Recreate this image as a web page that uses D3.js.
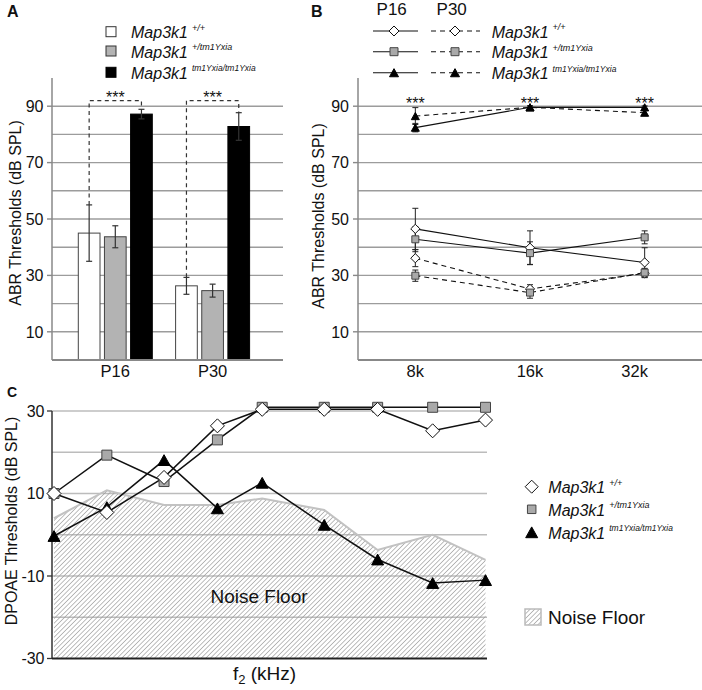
<!DOCTYPE html>
<html><head><meta charset="utf-8">
<script src="https://cdn.jsdelivr.net/npm/d3@7"></script>
<style>
body{margin:0;background:#fff}
svg{display:block}
text{font-family:"Liberation Sans",Arial,Helvetica,sans-serif;fill:#111}
</style>
</head><body>
<svg id="chart" width="702" height="690"></svg>
<script>
// ---------- DATA ----------
const genotypes = ["+/+", "+/tm1Yxia", "tm1Yxia/tm1Yxia"];
// Panel A: ABR click thresholds
const ageGroups = ["P16", "P30"];
const barP16 = [45, 43.7, 87.2];
const barP16Err = [10, 3.9, 1.7];
const barP30 = [26.3, 24.6, 82.8];
const barP30Err = [3, 2.3, 4.9];
const ticksABR = [10, 30, 50, 70, 90];
const bracketLevel = 92;
// Panel B: ABR thresholds by frequency
const freqsB = ["8k", "16k", "32k"];
const p16WT = [46.5, 39.8, 34.6], p16WTErr = [7.3, 6, 5.2];
const p16Het = [42.8, 37.9, 43.5], p16HetErr = [4.4, 4, 2.3];
const p16KO = [82.4, 89.6, 89.6], p16KOErr = [1.5, 0.5, 0.5];
const p30WT = [36.1, 25.2, 30.7], p30WTErr = [3, 1.5, 1.5];
const p30Het = [29.9, 23.9, 31], p30HetErr = [2, 2, 1.5];
const p30KO = [86.5, 89.6, 87.7], p30KOErr = [3, 0.5, 1];
// Panel C: DPOAE thresholds
const f2Steps = [0, 0.98, 2.04, 3.03, 3.86, 5.01, 6.0, 7.02, 8.0];
const dpWT = [10, 5.4, 13.9, 26.4, 30.4, 30.4, 30.4, 25.2, 27.8];
const dpHet = [10, 19.3, 12.9, 23, 30.9, 30.9, 30.9, 30.9, 30.9];
const dpKO = [-0.3, 6.7, 18.1, 6.4, 12.6, 2.4, -6, -11.7, -11];
const noiseFloor = [4, 10.8, 7.2, 7.2, 8.8, 6, -3.7, 0, -6.1];
const ticksDP = [30, 10, -10, -30];

// ---------- HELPERS ----------
const svg = d3.select("#chart");
const defs = svg.append("defs");
const hatch = defs.append("pattern").attr("id", "hatch")
  .attr("patternUnits", "userSpaceOnUse").attr("width", 3.3).attr("height", 3.3)
  .attr("patternTransform", "rotate(45)");
hatch.append("line").attr("x1", 0).attr("y1", 0).attr("x2", 0).attr("y2", 3.3)
  .attr("stroke", "#9a9a9a").attr("stroke-width", 1.3);

function diamond(r) { return `M0,${-r}L${r},0L0,${r}L${-r},0Z`; }
function square(s) { const h = s / 2; return `M${-h},${-h}H${h}V${h}H${-h}Z`; }
function triangle(w) { const h = w * 0.9; return `M0,${-h/2}L${w/2},${h/2}L${-w/2},${h/2}Z`; }
const markerStyle = [
  {fill: "#fff", stroke: "#111"},
  {fill: "#a9a9a9", stroke: "#444"},
  {fill: "#000", stroke: "#000"}
];
function marker(g, idx, x, y, sizes) {
  const d = idx === 0 ? diamond(sizes[0]) : idx === 1 ? square(sizes[1]) : triangle(sizes[2]);
  g.append("path").attr("d", d).attr("transform", `translate(${x},${y})`)
    .attr("fill", markerStyle[idx].fill).attr("stroke", markerStyle[idx].stroke).attr("stroke-width", 1);
}
function genoLabel(g, x, y, sup, size, supSize) {
  const t = g.append("text").attr("x", x).attr("y", y).attr("font-size", size).attr("font-style", "italic");
  t.append("tspan").text("Map3k1");
  t.append("tspan").attr("dx", 4).attr("dy", -7.5).attr("font-size", supSize).text(sup);
}

// ---------- PANEL A ----------
const gA = svg.append("g");
const yA = d3.scaleLinear().domain([0, 100]).range([360, 78]);
const xA = d3.scalePoint().domain(ageGroups).range([115.3, 212.6]);
const xSub = d3.scaleBand().domain(genotypes).range([-37, 37]).paddingInner(0.17);
gA.selectAll("line.grid").data(d3.range(10, 100, 10)).join("line")
  .attr("x1", 52).attr("x2", 283).attr("y1", d => yA(d)).attr("y2", d => yA(d))
  .attr("stroke", "#9c9c9c").attr("stroke-width", 1.4);
gA.append("line").attr("x1", 52).attr("x2", 52).attr("y1", yA(100)).attr("y2", yA(0))
  .attr("stroke", "#888").attr("stroke-width", 1.5);
gA.selectAll("line.tk").data(ticksABR).join("line")
  .attr("x1", 47).attr("x2", 52).attr("y1", d => yA(d)).attr("y2", d => yA(d))
  .attr("stroke", "#888").attr("stroke-width", 1.4);
gA.selectAll("text.tk").data(ticksABR).join("text")
  .attr("x", 43.5).attr("y", d => yA(d)).attr("dy", "0.36em").attr("text-anchor", "end")
  .attr("font-size", 16).text(d => d);

const barSets = [[barP16, barP16Err], [barP30, barP30Err]];
const barFill = ["#fff", "#b3b3b3", "#000"];
const barStroke = ["#444", "#444", "#000"];
ageGroups.forEach((grp, gi) => {
  const [vals, errs] = barSets[gi];
  genotypes.forEach((gt, k) => {
    const x0 = xA(grp) + xSub(gt), w = xSub.bandwidth();
    gA.append("rect").attr("x", x0).attr("y", yA(vals[k])).attr("width", w)
      .attr("height", yA(0) - yA(vals[k])).attr("fill", barFill[k]).attr("stroke", barStroke[k]).attr("stroke-width", 1);
    const cx = x0 + w / 2;
    gA.append("line").attr("x1", cx).attr("x2", cx).attr("y1", yA(vals[k] - errs[k])).attr("y2", yA(vals[k] + errs[k]))
      .attr("stroke", "#333").attr("stroke-width", 1.2);
    [vals[k] - errs[k], vals[k] + errs[k]].forEach(v => {
      gA.append("line").attr("x1", cx - 3).attr("x2", cx + 3).attr("y1", yA(v)).attr("y2", yA(v))
        .attr("stroke", "#333").attr("stroke-width", 1.2);
    });
  });
  // significance bracket
  const xl = xA(grp) + xSub(genotypes[0]) + xSub.bandwidth() / 2;
  const xr = xA(grp) + xSub(genotypes[2]) + xSub.bandwidth() / 2;
  gA.append("path")
    .attr("d", `M${xl},${yA(vals[0] + errs[0])}V${yA(bracketLevel)}H${xr}V${yA(vals[2] + errs[2])}`)
    .attr("fill", "none").attr("stroke", "#333").attr("stroke-width", 1.2).attr("stroke-dasharray", "4,3.5");
  gA.append("text").attr("x", (xl + xr) / 2).attr("y", yA(bracketLevel) + 2.5)
    .attr("text-anchor", "middle").attr("font-size", 16).text("***");
});
gA.append("line").attr("x1", 52).attr("x2", 283).attr("y1", yA(0)).attr("y2", yA(0))
  .attr("stroke", "#888").attr("stroke-width", 2);
gA.selectAll("text.xl").data(ageGroups).join("text")
  .attr("x", d => xA(d)).attr("y", 377).attr("text-anchor", "middle").attr("font-size", 16.5).text(d => d);
gA.append("text").attr("transform", "translate(21,213) rotate(-90)").attr("text-anchor", "middle")
  .attr("font-size", 16).text("ABR Thresholds (dB SPL)");
// legend A
const legRowsA = [31.7, 51, 72.3];
genotypes.forEach((gt, k) => {
  gA.append("rect").attr("x", 106).attr("y", legRowsA[k] - 5).attr("width", 10).attr("height", 10)
    .attr("fill", barFill[k]).attr("stroke", k === 2 ? "#000" : "#333").attr("stroke-width", 1);
  genoLabel(gA, 131, legRowsA[k] + 6.5, gt, 16, k === 2 ? 8.5 : 9);
});
svg.append("text").attr("x", 7).attr("y", 17).attr("font-size", 16).attr("font-weight", "bold").text("A");

// ---------- PANEL B ----------
const gB = svg.append("g");
const yB = d3.scaleLinear().domain([0, 100]).range([360, 78]);
const xB = d3.scalePoint().domain(freqsB).range([358, 702]).padding(0.5);
gB.selectAll("line.grid").data(d3.range(10, 100, 10)).join("line")
  .attr("x1", 358).attr("x2", 702).attr("y1", d => yB(d)).attr("y2", d => yB(d))
  .attr("stroke", "#9c9c9c").attr("stroke-width", 1.4);
gB.append("line").attr("x1", 358).attr("x2", 358).attr("y1", yB(100)).attr("y2", yB(0))
  .attr("stroke", "#888").attr("stroke-width", 1.5);
gB.selectAll("line.tk").data(ticksABR).join("line")
  .attr("x1", 353).attr("x2", 358).attr("y1", d => yB(d)).attr("y2", d => yB(d))
  .attr("stroke", "#888").attr("stroke-width", 1.4);
gB.selectAll("text.tk").data(ticksABR).join("text")
  .attr("x", 349).attr("y", d => yB(d)).attr("dy", "0.36em").attr("text-anchor", "end")
  .attr("font-size", 16).text(d => d);
gB.append("line").attr("x1", 358).attr("x2", 702).attr("y1", yB(0)).attr("y2", yB(0))
  .attr("stroke", "#888").attr("stroke-width", 2);
gB.selectAll("text.xl").data(freqsB).join("text")
  .attr("x", (d, i) => xB(d) - (i === 2 ? 10 : 0)).attr("y", 377).attr("text-anchor", "middle")
  .attr("font-size", 16.5).text(d => d);
gB.append("text").attr("transform", "translate(323.5,216) rotate(-90)").attr("text-anchor", "middle")
  .attr("font-size", 16).text("ABR Thresholds (dB SPL)");

const seriesB = [
  {v: p30WT, e: p30WTErr, k: 0, dash: "5,4"},
  {v: p30Het, e: p30HetErr, k: 1, dash: "5,4"},
  {v: p30KO, e: p30KOErr, k: 2, dash: "5,4"},
  {v: p16WT, e: p16WTErr, k: 0, dash: null},
  {v: p16Het, e: p16HetErr, k: 1, dash: null},
  {v: p16KO, e: p16KOErr, k: 2, dash: null}
];
const lineB = d3.line().x((d, i) => xB(freqsB[i])).y(d => yB(d));
seriesB.forEach(s => {
  s.v.forEach((v, i) => {
    const cx = xB(freqsB[i]);
    gB.append("line").attr("x1", cx).attr("x2", cx).attr("y1", yB(v - s.e[i])).attr("y2", yB(v + s.e[i]))
      .attr("stroke", "#222").attr("stroke-width", 1);
    [v - s.e[i], v + s.e[i]].forEach(t => gB.append("line").attr("x1", cx - 3).attr("x2", cx + 3)
      .attr("y1", yB(t)).attr("y2", yB(t)).attr("stroke", "#222").attr("stroke-width", 1));
  });
  gB.append("path").attr("d", lineB(s.v)).attr("fill", "none").attr("stroke", "#111")
    .attr("stroke-width", 1.1).attr("stroke-dasharray", s.dash);
});
seriesB.forEach(s => s.v.forEach((v, i) => marker(gB, s.k, xB(freqsB[i]), yB(v), [4.6, 7, 8])));
freqsB.forEach(f => gB.append("text").attr("x", xB(f)).attr("y", 108.5).attr("text-anchor", "middle")
  .attr("font-size", 16).text("***"));
// legend B
gB.append("text").attr("x", 391.7).attr("y", 15).attr("text-anchor", "middle").attr("font-size", 17).text("P16");
gB.append("text").attr("x", 451.7).attr("y", 15).attr("text-anchor", "middle").attr("font-size", 17).text("P30");
const legRowsB = [31, 51.7, 72.7];
genotypes.forEach((gt, k) => {
  const y = legRowsB[k];
  gB.append("line").attr("x1", 373).attr("x2", 418).attr("y1", y).attr("y2", y).attr("stroke", "#111").attr("stroke-width", 1.1);
  gB.append("line").attr("x1", 431).attr("x2", 480).attr("y1", y).attr("y2", y).attr("stroke", "#111")
    .attr("stroke-width", 1.1).attr("stroke-dasharray", "5,4");
  marker(gB, k, 394, y, [5, 8, 9]);
  marker(gB, k, 455, y, [5, 8, 9]);
  genoLabel(gB, 491.7, y + 6.5, gt, 16, k === 2 ? 8.5 : 9);
});
svg.append("text").attr("x", 311).attr("y", 17).attr("font-size", 16).attr("font-weight", "bold").text("B");

// ---------- PANEL C ----------
const gC = svg.append("g");
const yC = d3.scaleLinear().domain([-30, 30]).range([658.5, 411]);
const xC = d3.scaleLinear().domain([0, 8]).range([54, 485.5]);
gC.selectAll("line.grid").data(d3.range(-20, 31, 10)).join("line")
  .attr("x1", 52).attr("x2", 487).attr("y1", d => yC(d)).attr("y2", d => yC(d))
  .attr("stroke", "#bcbcbc").attr("stroke-width", 1.4);
const noiseArea = d3.area().x((d, i) => xC(f2Steps[i])).y0(yC(-30)).y1(d => yC(d));
gC.append("path").attr("d", noiseArea(noiseFloor)).attr("fill", "url(#hatch)");
gC.append("path").attr("d", d3.line().x((d, i) => xC(f2Steps[i])).y(d => yC(d))(noiseFloor))
  .attr("fill", "none").attr("stroke", "#c2c2c2").attr("stroke-width", 2);
gC.append("line").attr("x1", 52).attr("x2", 52).attr("y1", yC(30)).attr("y2", yC(-30))
  .attr("stroke", "#333").attr("stroke-width", 1.5);
gC.selectAll("line.tk").data(ticksDP).join("line")
  .attr("x1", 47).attr("x2", 52).attr("y1", d => yC(d)).attr("y2", d => yC(d))
  .attr("stroke", "#333").attr("stroke-width", 1.3);
gC.selectAll("text.tk").data(ticksDP).join("text")
  .attr("x", 44.5).attr("y", d => yC(d)).attr("dy", "0.36em").attr("text-anchor", "end")
  .attr("font-size", 16).text(d => d);
gC.append("line").attr("x1", 52).attr("x2", 487).attr("y1", yC(-30)).attr("y2", yC(-30))
  .attr("stroke", "#222").attr("stroke-width", 2);
gC.append("text").attr("x", 259).attr("y", 603).attr("text-anchor", "middle").attr("font-size", 19).text("Noise Floor");
const xlab = gC.append("text").attr("x", 233).attr("y", 680).attr("font-size", 19);
xlab.append("tspan").text("f");
xlab.append("tspan").attr("dy", 4).attr("font-size", 13).text("2");
xlab.append("tspan").attr("dy", -4).text(" (kHz)");
gC.append("text").attr("transform", "translate(17,521) rotate(-90)").attr("text-anchor", "middle")
  .attr("font-size", 16).text("DPOAE Thresholds (dB SPL)");

const lineC = d3.line().x((d, i) => xC(f2Steps[i])).y(d => yC(d));
const seriesC = [{v: dpHet, k: 1}, {v: dpKO, k: 2}, {v: dpWT, k: 0}];
seriesC.forEach(s => gC.append("path").attr("d", lineC(s.v)).attr("fill", "none")
  .attr("stroke", "#111").attr("stroke-width", 1.5));
seriesC.forEach(s => s.v.forEach((v, i) => marker(gC, s.k, xC(f2Steps[i]), yC(v), [7, 10, 12])));
// legend C
const legRowsC = [486.7, 509.3, 532.3];
genotypes.forEach((gt, k) => {
  marker(gC, k, 531.7, legRowsC[k], [6.5, 8.5, 12]);
  genoLabel(gC, 548.3, legRowsC[k] + 6.5, gt, 16, k === 2 ? 8.5 : 9);
});
gC.append("rect").attr("x", 525).attr("y", 609).attr("width", 16).attr("height", 16)
  .attr("fill", "url(#hatch)").attr("stroke", "#bbb").attr("stroke-width", 1.5);
gC.append("text").attr("x", 548).attr("y", 624).attr("font-size", 19).text("Noise Floor");
svg.append("text").attr("x", 7).attr("y", 397).attr("font-size", 14).attr("font-weight", "bold").text("C");
</script>
</body></html>
